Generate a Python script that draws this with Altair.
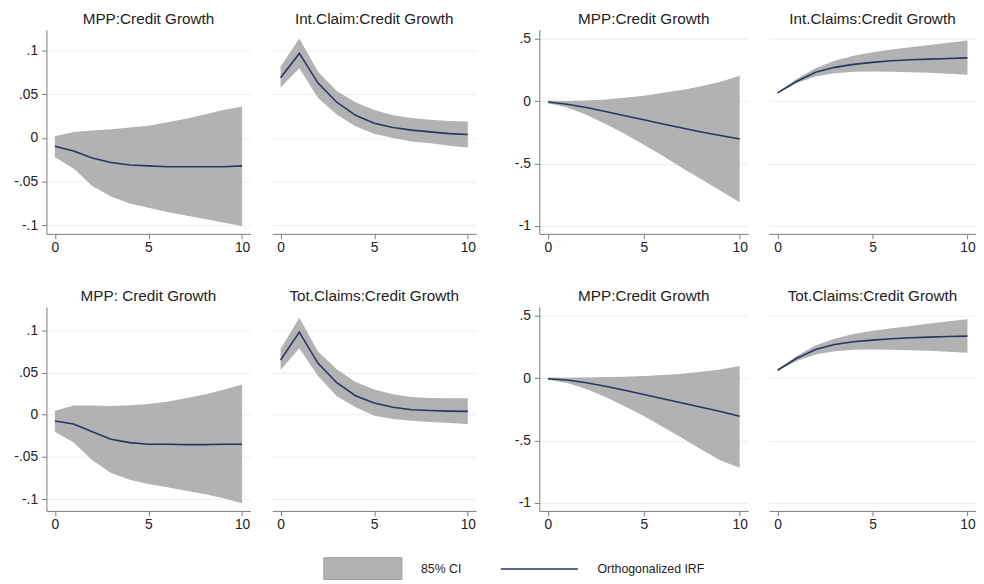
import altair as alt
import pandas as pd

steps = list(range(11))

# Top-left pair
p1_title = "MPP:Credit Growth"
p1_irf = [-0.0094, -0.015, -0.023, -0.028, -0.031, -0.032, -0.033, -0.033, -0.033, -0.033, -0.032]
p1_hi = [0.002, 0.007, 0.0087, 0.010, 0.012, 0.014, 0.018, 0.022, 0.027, 0.032, 0.036]
p1_lo = [-0.022, -0.035, -0.055, -0.067, -0.075, -0.080, -0.085, -0.089, -0.093, -0.097, -0.101]

p2_title = "Int.Claim:Credit Growth"
p2_irf = [0.069, 0.097, 0.063, 0.041, 0.026, 0.017, 0.012, 0.009, 0.007, 0.005, 0.004]
p2_hi = [0.082, 0.114, 0.076, 0.054, 0.041, 0.032, 0.026, 0.023, 0.021, 0.0195, 0.019]
p2_lo = [0.058, 0.080, 0.046, 0.027, 0.0135, 0.005, 0.0, -0.004, -0.006, -0.009, -0.011]

# Top-right pair
p3_title = "MPP:Credit Growth"
p3_irf = [-0.008, -0.026, -0.052, -0.084, -0.118, -0.15, -0.184, -0.215, -0.247, -0.276, -0.304]
p3_hi = [0.005, 0.0, 0.005, 0.013, 0.026, 0.042, 0.066, 0.089, 0.118, 0.155, 0.202]
p3_lo = [-0.018, -0.052, -0.11, -0.184, -0.262, -0.349, -0.44, -0.535, -0.626, -0.717, -0.81]

p4_title = "Int.Claims:Credit Growth"
p4_irf = [0.066, 0.157, 0.231, 0.270, 0.294, 0.31, 0.323, 0.331, 0.336, 0.341, 0.346]
p4_hi = [0.071, 0.176, 0.262, 0.323, 0.362, 0.391, 0.412, 0.430, 0.449, 0.467, 0.485]
p4_lo = [0.060, 0.144, 0.197, 0.223, 0.234, 0.236, 0.234, 0.231, 0.226, 0.218, 0.21]

# Bottom-left pair
p5_title = "MPP: Credit Growth"
p5_irf = [-0.0074, -0.011, -0.020, -0.029, -0.033, -0.035, -0.035, -0.0354, -0.0354, -0.035, -0.035]
p5_hi = [0.0047, 0.011, 0.011, 0.0105, 0.0113, 0.0128, 0.0156, 0.0195, 0.024, 0.0296, 0.036]
p5_lo = [-0.020, -0.033, -0.054, -0.069, -0.077, -0.082, -0.086, -0.090, -0.094, -0.099, -0.105]

p6_title = "Tot.Claims:Credit Growth"
p6_irf = [0.065, 0.098, 0.061, 0.038, 0.0226, 0.014, 0.009, 0.006, 0.005, 0.0043, 0.004]
p6_hi = [0.078, 0.115, 0.075, 0.054, 0.039, 0.030, 0.0245, 0.021, 0.020, 0.0195, 0.0195]
p6_lo = [0.053, 0.079, 0.046, 0.022, 0.009, -0.001, -0.005, -0.007, -0.0086, -0.0097, -0.011]

# Bottom-right pair
p7_title = "MPP:Credit Growth"
p7_irf = [-0.005, -0.016, -0.037, -0.066, -0.097, -0.131, -0.165, -0.2, -0.234, -0.268, -0.305]
p7_hi = [0.005, 0.003, 0.005, 0.008, 0.01, 0.016, 0.024, 0.034, 0.05, 0.068, 0.097]
p7_lo = [-0.013, -0.039, -0.087, -0.152, -0.226, -0.304, -0.391, -0.48, -0.572, -0.659, -0.717]

p8_title = "Tot.Claims:Credit Growth"
p8_irf = [0.063, 0.157, 0.228, 0.268, 0.291, 0.304, 0.315, 0.323, 0.328, 0.333, 0.336]
p8_hi = [0.068, 0.176, 0.26, 0.315, 0.352, 0.378, 0.399, 0.417, 0.436, 0.454, 0.47]
p8_lo = [0.058, 0.136, 0.189, 0.215, 0.226, 0.228, 0.226, 0.223, 0.218, 0.21, 0.202]

small_ticks = [-0.1, -0.05, 0, 0.05, 0.1]
big_ticks = [-1, -0.5, 0, 0.5]
x_ticks = [0, 5, 10]
band_label = "85% CI"
line_label = "Orthogonalized IRF"

FONT = "Liberation Sans"
BAND = "#b2b2b2"
LINE = "#28365e"
H = 207

fill_legend = alt.Legend(
    title=None, orient="none", legendX=309.5, legendY=535, padding=0,
    symbolType="M-3.6,-1H3.6V1H-3.6Z", symbolSize=484, symbolStrokeColor="#9a9a9a",
    symbolStrokeWidth=1, labelOffset=47.5, labelFontSize=12.5, labelFont=FONT, labelColor="#222",
)
stroke_legend = alt.Legend(
    title=None, orient="none", legendX=488, legendY=535, padding=0,
    symbolType="M-3.55,0H3.55", symbolSize=484, symbolStrokeWidth=1.6,
    labelOffset=47, labelFontSize=12.5, labelFont=FONT, labelColor="#222",
)


def panel(title, irf, lo, hi, ydom, yvals, width, left_axis, min_ext=39):
    df = pd.DataFrame({"step": steps, "irf": irf, "lo": lo, "hi": hi,
                       "band": band_label, "kind": line_label})
    xs = alt.Scale(domain=[-0.45, 10.45], nice=False, zero=False)
    xa = alt.Axis(values=x_ticks, title=None, grid=False, format="d")
    ys = alt.Scale(domain=ydom, nice=False, zero=False)
    if left_axis:
        ya = alt.Axis(values=yvals, title=None, grid=True, minExtent=min_ext,
                      labelExpr="replace(toString(datum.value), '0.', '.')")
    else:
        ya = alt.Axis(values=yvals, title=None, grid=True, labels=False, ticks=False,
                      domain=False, minExtent=0, maxExtent=0)
    area = alt.Chart(df).mark_area(opacity=1, interpolate="linear").encode(
        x=alt.X("step:Q", scale=xs, axis=xa),
        y=alt.Y("lo:Q", scale=ys, axis=ya),
        y2="hi:Q",
        fill=alt.Fill("band:N", scale=alt.Scale(domain=[band_label], range=[BAND]), legend=fill_legend),
    )
    line = alt.Chart(df).mark_line(strokeWidth=1.6).encode(
        x=alt.X("step:Q", scale=xs, axis=xa),
        y=alt.Y("irf:Q", scale=ys, axis=ya),
        stroke=alt.Stroke("kind:N", scale=alt.Scale(domain=[line_label], range=[LINE]), legend=stroke_legend),
    )
    return alt.layer(area, line).properties(
        width=width, height=H,
        title=alt.TitleParams(title, fontSize=15.5, font=FONT, fontWeight="normal",
                              color="#222", anchor="middle", offset=2),
    )


top_small = [-0.11, 0.124]
bot_small = [-0.114, 0.128]
big = [-1.063, 0.57]

row1 = alt.hconcat(
    alt.hconcat(
        panel(p1_title, p1_irf, p1_lo, p1_hi, top_small, small_ticks, 207, True),
        panel(p2_title, p2_irf, p2_lo, p2_hi, top_small, small_ticks, 207, False),
        spacing=22,
    ),
    alt.hconcat(
        panel(p3_title, p3_irf, p3_lo, p3_hi, big, big_ticks, 212, True),
        panel(p4_title, p4_irf, p4_lo, p4_hi, big, big_ticks, 210, False),
        spacing=21,
    ),
    spacing=25,
)
row2 = alt.hconcat(
    alt.hconcat(
        panel(p5_title, p5_irf, p5_lo, p5_hi, bot_small, small_ticks, 207, True, 33),
        panel(p6_title, p6_irf, p6_lo, p6_hi, bot_small, small_ticks, 207, False),
        spacing=22,
    ),
    alt.hconcat(
        panel(p7_title, p7_irf, p7_lo, p7_hi, big, big_ticks, 212, True, 39),
        panel(p8_title, p8_irf, p8_lo, p8_hi, big, big_ticks, 210, False),
        spacing=21,
    ),
    spacing=25,
)

chart = alt.concat(row1, row2, columns=1, align="none", spacing=35).properties(
    padding=0, background="white"
).configure_view(stroke=None).configure_axis(
    labelFont=FONT, labelFontSize=14, labelColor="#222",
    domainColor="#7a7a7a", tickColor="#7a7a7a", domainWidth=1, tickWidth=1,
    tickSize=5, gridColor="#e8eff1", gridWidth=1,
).configure_axisY(labelPadding=4).configure_axisX(labelPadding=2)

chart.save("out.html", embed_options={"renderer": "svg", "actions": False})
